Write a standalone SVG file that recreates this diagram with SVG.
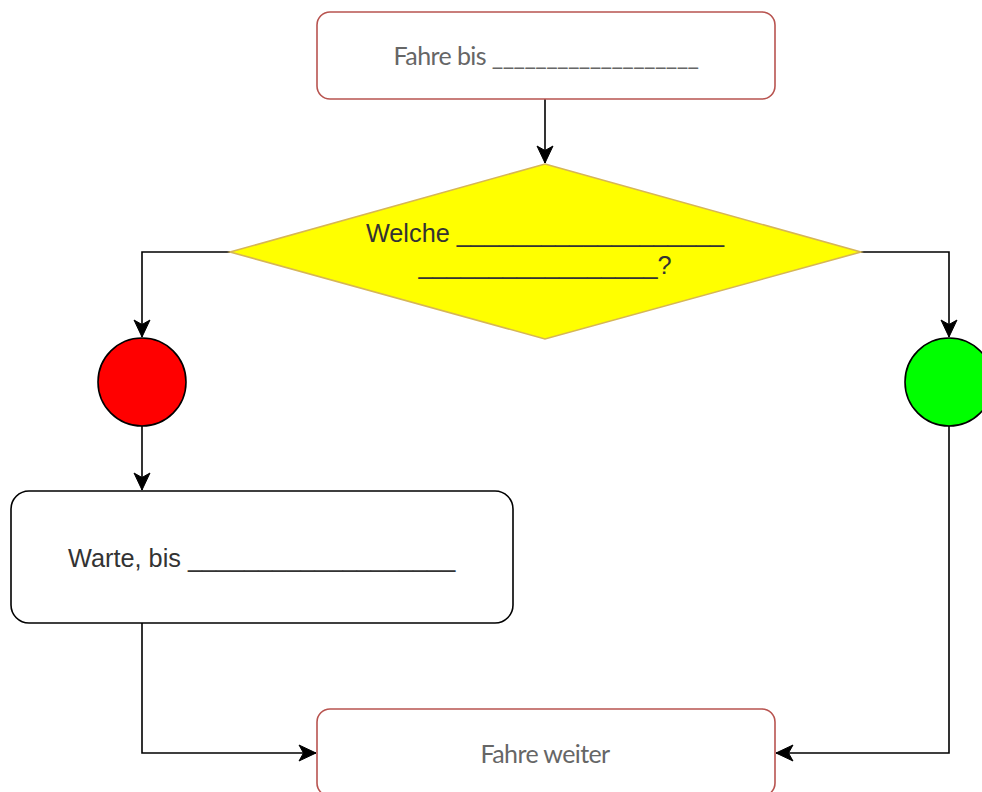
<svg xmlns="http://www.w3.org/2000/svg" width="982" height="792" viewBox="0 0 982 792">
  <style>
    .edge { fill: none; stroke: #000; stroke-width: 1.6; }
    .redbox { fill: #fff; stroke: #b85450; stroke-width: 1.6; }
    .lato { font-family: Lato, "Liberation Sans", sans-serif; font-size: 25px; fill: #666; letter-spacing: -0.6px; }
    .arial { font-family: "Liberation Sans", Arial, sans-serif; font-size: 25.3px; fill: #333; }
  </style>
  <defs>
    <marker id="arrow" viewBox="-18 -9 19 18" refX="0" refY="0" markerWidth="19" markerHeight="18" markerUnits="userSpaceOnUse" orient="auto">
      <path d="M0,0 L-17,-8 L-12.5,0 L-17,8 Z" fill="#000" stroke="#000" stroke-width="1"/>
    </marker>
  </defs>
  <rect width="982" height="792" fill="#fff"/>

  <g id="connectors">
    <path class="edge" d="M545,99 L545,163" marker-end="url(#arrow)"/>
    <path class="edge" d="M230,252 L142,252 L142,337" marker-end="url(#arrow)"/>
    <path class="edge" d="M861,252 L949,252 L949,337" marker-end="url(#arrow)"/>
    <path class="edge" d="M142,426 L142,490" marker-end="url(#arrow)"/>
    <path class="edge" d="M142,623 L142,753 L316,753" marker-end="url(#arrow)"/>
    <path class="edge" d="M949,426 L949,753 L776,753" marker-end="url(#arrow)"/>
  </g>

  <g id="node-start">
    <rect class="redbox" x="317" y="12" width="458" height="87" rx="13" ry="13"/>
    <text class="lato" x="546" y="65" text-anchor="middle">Fahre bis ___________________</text>
  </g>

  <g id="node-decision">
    <polygon points="545,164 861,252 545,339 230,252" fill="#ffff00" stroke="#d6b656" stroke-width="1.6"/>
    <text class="arial" x="545" y="242" text-anchor="middle">Welche ___________________</text>
    <text class="arial" x="545" y="274" text-anchor="middle">_________________?</text>
  </g>

  <g id="node-red">
    <circle cx="142" cy="382" r="44" fill="#ff0000" stroke="#000" stroke-width="1.6"/>
  </g>

  <g id="node-green">
    <circle cx="949" cy="382" r="44" fill="#00ff00" stroke="#000" stroke-width="1.6"/>
  </g>

  <g id="node-wait">
    <rect x="11" y="491" width="502" height="132" rx="18" ry="18" fill="#fff" stroke="#000" stroke-width="1.6"/>
    <text class="arial" x="68" y="567">Warte, bis ___________________</text>
  </g>

  <g id="node-end">
    <rect class="redbox" x="317" y="709" width="458" height="87" rx="13" ry="13"/>
    <text class="lato" x="545" y="763" text-anchor="middle">Fahre weiter</text>
  </g>
</svg>
